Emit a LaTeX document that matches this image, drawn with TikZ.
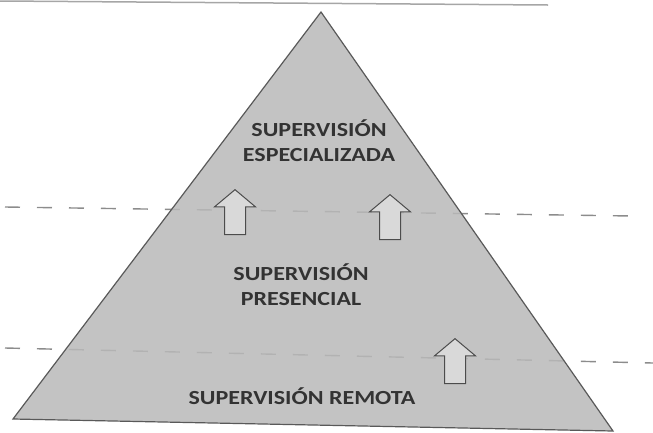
\documentclass[tikz,border=0pt]{standalone}
\usepackage{fontspec}
\setmainfont{Carlito}
\newfontfamily\levelfont[FakeStretch=1.2]{Carlito}
\usetikzlibrary{shapes.arrows}

\begin{document}
\begin{tikzpicture}[x=1pt,y=-1pt,
    level/.style={font=\levelfont\bfseries\fontsize{20}{25}\selectfont,text=black!80,align=center},
    sep/.style={gray!90,line width=1.4pt,dash pattern=on 15pt off 17pt},
    uparrow/.style={draw=black!70,fill=gray!30,line width=1pt,shape=single arrow,shape border rotate=90,
      single arrow head extend=10pt,single arrow tip angle=100,minimum height=45pt,inner sep=10pt}]
  \useasboundingbox (0,0) rectangle (653,432);
  % underline of the cut heading
  \draw[gray!70,line width=1.5pt] (0,1) -- (548,5);
  % level limits
  \coordinate (sepal) at (5,207);
  \coordinate (separ) at (632,216);
  \coordinate (sepbl) at (5,348);
  \coordinate (sepbr) at (653,363);
  \draw[sep] (sepal) -- (separ);
  \draw[sep] (sepbl) -- (sepbr);
  % pyramid
  \coordinate (apex) at (321,12);
  \coordinate (left) at (13,419);
  \coordinate (right) at (613,431);
  \filldraw[draw=black!65,fill=gray!55,fill opacity=0.85,line width=1.2pt] (apex) -- (left) -- (right) -- cycle;
  \node[level] (espec) at (319,141) {SUPERVISIÓN\\ESPECIALIZADA};
  \node[level] (presen) at (301,285) {SUPERVISIÓN\\PRESENCIAL};
  \node[level] (remota) at (302,396) {SUPERVISIÓN REMOTA};
  \node[uparrow,anchor=tip] (upa) at (235,189) {};
  \node[uparrow,anchor=tip] (upb) at (390,194) {};
  \node[uparrow,anchor=tip] (upc) at (455,338) {};
\end{tikzpicture}
\end{document}
